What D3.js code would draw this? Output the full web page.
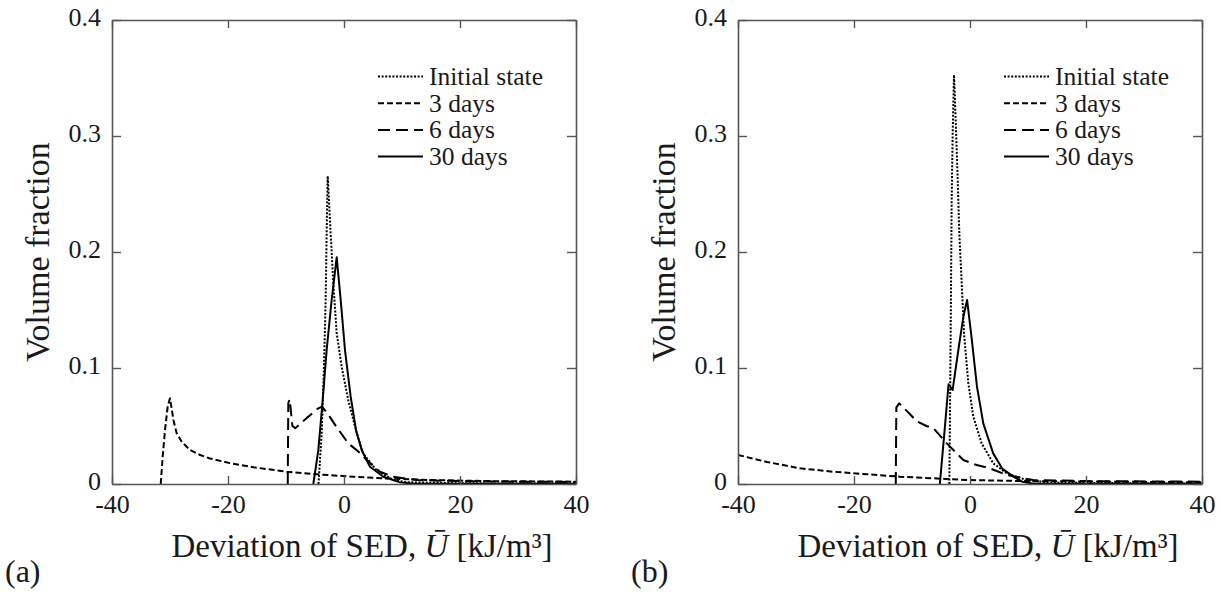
<!DOCTYPE html>
<html>
<head>
<meta charset="utf-8">
<script src="https://cdn.jsdelivr.net/npm/d3@7"></script>
<style>
  html, body { margin: 0; padding: 0; background: #fff; }
  svg { display: block; }
  text { font-family: 'Liberation Serif', 'Times New Roman', serif; fill: #1a1a1a; }
</style>
</head>
<body>
<svg id="chart" width="1221" height="592"></svg>
<script>
// ---------------- data ----------------
const xTicks = [-40, -20, 0, 20, 40];
const yTicks = [0, 0.1, 0.2, 0.3, 0.4];
const seriesNames = ["Initial state", "3 days", "6 days", "30 days"];

// Panel (a)
const aInitial = [[-4.4,0],[-3.84,0.044],[-3.45,0.101],[-3.16,0.159],[-2.99,0.216],[-2.81,0.2655],[-2.3,0.216],[-1.84,0.173],[-1.26,0.130],[-0.4,0.101],[0.75,0.072],[2.18,0.044],[3.33,0.026],[5.6,0.012],[8.5,0.0034],[11,0.0015],[20,0.0006],[40,0.0003]];
const a3days = [[-31.6,0],[-31.26,0.0235],[-30.86,0.0466],[-30.4,0.0667],[-30.0,0.0739],[-29.4,0.055],[-28.85,0.0437],[-27.98,0.0365],[-26.55,0.0293],[-24.8,0.025],[-23.1,0.022],[-19.7,0.018],[-15.6,0.0144],[-9.9,0.0106],[-5.3,0.0086],[1.6,0.0063],[6.8,0.0049],[15,0.0034],[25,0.0025],[40,0.002]];
const a6days = [[-9.7,0],[-9.6,0.07],[-9.35,0.073],[-8.9,0.05],[-8.4,0.048],[-6.4,0.057],[-4.5,0.065],[-3.84,0.0667],[-3.0,0.062],[-1.26,0.049],[0.74,0.035],[2.47,0.028],[3.9,0.0207],[6.2,0.0106],[8.5,0.0063],[12.5,0.0034],[20,0.0025],[30,0.002],[40,0.0018]];
const a30days = [[-5.29,0],[-4.43,0.029],[-3.68,0.072],[-2.99,0.1155],[-2.13,0.1586],[-1.26,0.1954],[-0.57,0.1586],[0.17,0.1155],[1.15,0.0753],[2.07,0.0466],[3.05,0.0293],[4.48,0.0149],[6.78,0.0063],[9.66,0.0014],[12,0.0003],[40,0.0002]];

// Panel (b)
const bInitial = [[-3.56,0],[-3.3,0.15],[-3.16,0.245],[-2.99,0.302],[-2.76,0.3526],[-2.59,0.331],[-2.19,0.2735],[-1.84,0.216],[-1.43,0.173],[-1.03,0.13],[-0.29,0.0868],[0.57,0.058],[2.01,0.035],[4.02,0.0178],[6.32,0.0092],[9.77,0.0034],[14,0.0012],[40,0.0003]];
const b3days = [[-40,0.025],[-35,0.019],[-29.3,0.0135],[-23.6,0.0106],[-17.8,0.0084],[-12.1,0.0063],[-6.3,0.0049],[-0.6,0.0034],[10,0.0025],[25,0.002],[40,0.0015]];
const b6days = [[-12.8,0],[-12.7,0.066],[-12.2,0.0695],[-10.5,0.061],[-9.2,0.054],[-7.5,0.050],[-6.3,0.048],[-4.0,0.035],[-1.15,0.0207],[1.15,0.0164],[3.45,0.0135],[6.3,0.0078],[10.9,0.0034],[20,0.0025],[40,0.002]];
const b30days = [[-5.2,0],[-4.4,0.045],[-3.7,0.086],[-3.0,0.081],[-2.01,0.1155],[-1.15,0.144],[-0.5,0.1586],[0.3,0.125],[1.2,0.084],[2.3,0.052],[3.5,0.034],[4.0,0.0264],[5.6,0.013],[7.5,0.0063],[9,0.002],[11,0.0003],[40,0.0002]];

const panelLabels = ["(a)", "(b)"];
const xLabelText = "Deviation of SED, ";
const yLabelText = "Volume fraction";

// ---------------- drawing ----------------
const svg = d3.select("#chart");
svg.append("rect").attr("width", 1221).attr("height", 592).attr("fill", "#fff");

const dashes = ["2,1.6", "6,3", "12,6", null];
const W = 464, H = 464, TOP = 20;

function drawPanel(x0, data, label, idx) {
  const x = d3.scaleLinear().domain([-40, 40]).range([x0, x0 + W]);
  const y = d3.scaleLinear().domain([0, 0.4]).range([TOP + H, TOP]);
  const g = svg.append("g");

  const clipId = "clip" + idx;
  svg.append("clipPath").attr("id", clipId)
    .append("rect").attr("x", x0).attr("y", TOP - 2).attr("width", W).attr("height", H + 2);

  // lines
  const line = d3.line().x(d => x(d[0])).y(d => y(d[1]));
  const lg = g.append("g").attr("clip-path", `url(#${clipId})`);
  data.forEach((s, i) => {
    lg.append("path").datum(s).attr("d", line)
      .attr("fill", "none").attr("stroke", "#000").attr("stroke-width", 2)
      .attr("stroke-linejoin", "round")
      .attr("stroke-dasharray", dashes[i]);
  });

  const fmt = d => String(d);
  const axStyle = sel => {
    sel.selectAll("path.domain").attr("stroke", "#555").attr("stroke-width", 1.6);
    sel.selectAll(".tick line").attr("stroke", "#555").attr("stroke-width", 1.4);
    sel.selectAll("text").attr("font-size", 26).attr("fill", "#1a1a1a");
  };
  g.append("g").attr("transform", `translate(0,${TOP + H})`)
    .call(d3.axisBottom(x).tickValues(xTicks).tickFormat(fmt).tickSizeInner(-8).tickSizeOuter(0).tickPadding(11))
    .call(axStyle);
  g.append("g").attr("transform", `translate(0,${TOP})`)
    .call(d3.axisTop(x).tickValues(xTicks).tickFormat("").tickSizeInner(-8).tickSizeOuter(0))
    .call(axStyle);
  g.append("g").attr("transform", `translate(${x0},0)`)
    .call(d3.axisLeft(y).tickValues(yTicks).tickFormat(fmt).tickSizeInner(-9).tickSizeOuter(0).tickPadding(11))
    .call(axStyle)
    .call(s => s.selectAll("text").attr("dy", "0.2em"));
  g.append("g").attr("transform", `translate(${x0 + W},0)`)
    .call(d3.axisRight(y).tickValues(yTicks).tickFormat("").tickSizeInner(-9).tickSizeOuter(0))
    .call(axStyle);

  // legend
  const lgX = x0 + 266, lgY0 = 85, lgStep = 26.7;
  seriesNames.forEach((name, i) => {
    const by = lgY0 + i * lgStep;
    g.append("line").attr("x1", lgX).attr("x2", lgX + 45)
      .attr("y1", by - 8.5).attr("y2", by - 8.5)
      .attr("stroke", "#000").attr("stroke-width", 2)
      .attr("stroke-dasharray", dashes[i]);
    g.append("text").attr("x", lgX + 51).attr("y", by)
      .attr("font-size", 25.5).text(name);
  });

  // x label
  const xl = g.append("text").attr("x", x0 + 250).attr("y", 557)
    .attr("text-anchor", "middle").attr("font-size", 33);
  xl.append("tspan").text(xLabelText);
  xl.append("tspan").attr("font-style", "italic").text("Ū");
  xl.append("tspan").text(" [kJ/m³]");

  // y label
  g.append("text")
    .attr("transform", `translate(${x0 - 63},${TOP + H / 2}) rotate(-90)`)
    .attr("text-anchor", "middle").attr("font-size", 34).text(yLabelText);

  // panel label
  g.append("text").attr("x", x0 - 107).attr("y", 582).attr("font-size", 32).text(label);
}

drawPanel(112, [aInitial, a3days, a6days, a30days], panelLabels[0], 0);
drawPanel(738, [bInitial, b3days, b6days, b30days], panelLabels[1], 1);
</script>
</body>
</html>
